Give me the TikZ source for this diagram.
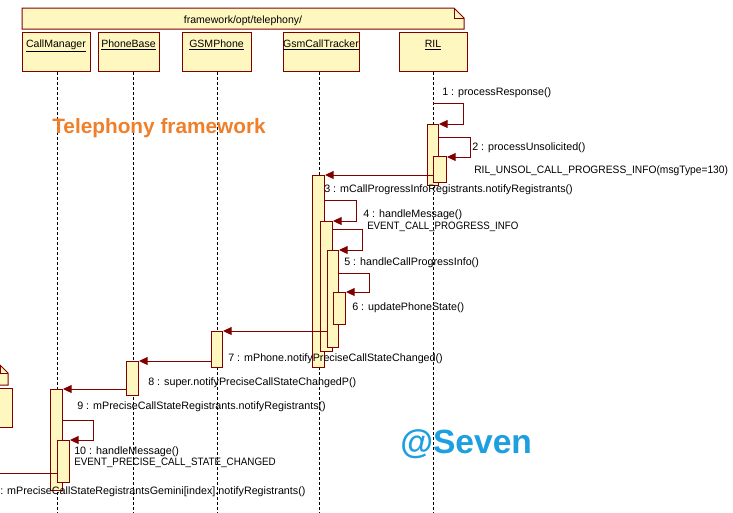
\documentclass[tikz,border=0pt]{standalone}
\usepackage{fontspec}
\setmainfont{Liberation Sans}
\usepackage{graphicx}
\usetikzlibrary{arrows.meta}
\definecolor{boxfill}{HTML}{FFF7C0}
\definecolor{boxline}{HTML}{800000}
\definecolor{orangetxt}{HTML}{F07F2A}
\definecolor{bluetxt}{HTML}{1E9FE0}
\begin{document}
\begin{tikzpicture}[x=0.75pt,y=-0.75pt,
  small/.style={font=\fontsize{8.05}{9}\selectfont, inner sep=0pt},
  lbl/.style={small, anchor=west},
  hdr/.style={draw=boxline, fill=boxfill, line width=0.75pt, inner sep=0pt, anchor=north west,
              minimum width=#1*0.75pt, minimum height=39*0.75pt},
  hdrtxt/.style={font=\fontsize{7.9}{9}\selectfont, inner sep=0pt, anchor=base},
  act/.style 2 args={draw=boxline, fill=boxfill, line width=0.75pt, inner sep=0pt, anchor=north west,
              minimum width=#1*0.75pt, minimum height=#2*0.75pt},
  life/.style={black, line width=0.75pt, dash pattern=on 2.25pt off 1.5pt},
  msg/.style={draw=boxline, line width=0.75pt, -{Triangle[length=6.5pt,width=6pt]}},
  msgline/.style={draw=boxline, line width=0.75pt},
  shapeline/.style={draw=boxline, fill=boxfill, line width=0.75pt}
]
\useasboundingbox (0,0) rectangle (733,512);
\clip (0,0) rectangle (733,512);
\fill[white] (0,0) rectangle (733,512);

% package box
\filldraw[shapeline] (22,8) -- (454,8) -- (464,18) -- (464,29) -- (22,29) -- cycle;
\draw[boxline, line width=0.75pt] (454,8) -- (454,18) -- (464,18);
\node[hdrtxt] (pkg) at (243,23) {framework/opt/telephony/};

% partial objects at the left edge
\filldraw[shapeline] (-3,365) -- (0,365) -- (8,373) -- (8,385) -- (-3,385) -- cycle;
\draw[boxline, line width=0.75pt] (0,365) -- (0,373) -- (8,373);
\node[hdr=15] (lft) at (-3,388) {};

% lifeline headers
\node[hdr=68] (cm) at (22,32) {};
\node[hdr=61] (pb) at (98,32) {};
\node[hdr=69] (gp) at (182,32) {};
\node[hdr=76] (gt) at (283,32) {};
\node[hdr=68] (ril) at (399,32) {};
\node[hdrtxt] (cmt) at (56,47) {\underline{CallManager}};
\node[hdrtxt] (pbt) at (128.5,47) {\underline{PhoneBase}};
\node[hdrtxt] (gpt) at (216.5,47) {\underline{GSMPhone}};
\node[hdrtxt] (gtt) at (321,47) {\underline{GsmCallTracker}};
\node[hdrtxt] (rilt) at (433,47) {\underline{RIL}};

% lifelines
\coordinate (cmb) at (57,515);
\coordinate (pbb) at (133,515);
\coordinate (gpb) at (217,515);
\coordinate (gtb) at (319,515);
\coordinate (rilb) at (433,515);
\draw[life] (cm.south -| cmb) -- (cmb);
\draw[life] (pb.south -| pbb) -- (pbb);
\draw[life] (gp.south -| gpb) -- (gpb);
\draw[life] (gt.south -| gtb) -- (gtb);
\draw[life] (ril.south -| rilb) -- (rilb);

% activations
\node[act={11}{61}] (r1) at (427,124) {};
\node[act={13}{26}] (r2) at (433,156) {};
\node[act={12}{192}] (g1) at (312,175) {};
\node[act={12}{130}] (g2) at (320,221) {};
\node[act={11}{97}] (g3) at (327,250) {};
\node[act={12}{32}] (g4) at (333,292) {};
\node[act={11}{36}] (p1) at (211,331) {};
\node[act={12}{34}] (b1) at (126,361) {};
\node[act={12}{101}] (c1) at (50,389) {};
\node[act={12}{42}] (c2) at (57,440) {};

% messages
\coordinate (s1) at (433,103);
\draw[msg] (s1) -- (463,103) -- (463,124) -- (r1.north east);
\draw[msg] (r1.east |- 0,137) -- (470,137) -- (470,157) -- (r2.east |- 0,157);
\draw[msg] (r2.west |- 0,175) -- (g1.north east);
\draw[msg] (g1.east |- 0,200) -- (356,200) -- (356,221) -- (g2.north east);
\draw[msg] (g2.east |- 0,229) -- (362,229) -- (362,250) -- (g3.north east);
\draw[msg] (g3.east |- 0,273) -- (369,273) -- (369,292) -- (g4.north east);
\draw[msg] (g2.center |- 0,331) -- (p1.north east);
\draw[msg] (p1.west |- 0,361) -- (b1.north east);
\draw[msg] (b1.west |- 0,389) -- (c1.north east);
\draw[msg] (c1.east |- 0,420) -- (93,420) -- (93,440) -- (c2.north east);
\coordinate (e11) at (-5,473);
\draw[msgline] (c2.west |- 0,473) -- (e11);

% labels
\node[lbl] (l1) at (442,93) {1 : processResponse()};
\node[lbl] (l2) at (472,148) {2 : processUnsolicited()};
\node[lbl] (l2b) at (474,171) {\scalebox{0.955}[1]{RIL\_UNSOL\_CALL\_PROGRESS\_INFO(msgType=130)}};
\node[lbl] (l3) at (324,190) {3 : mCallProgressInfoRegistrants.notifyRegistrants()};
\node[lbl] (l4) at (363,215) {4 : handleMessage()};
\node[lbl] (l4b) at (367,227) {\scalebox{0.905}[1]{EVENT\_CALL\_PROGRESS\_INFO}};
\node[lbl] (l5) at (344,263) {5 : handleCallProgressInfo()};
\node[lbl] (l6) at (352,308) {6 : updatePhoneState()};
\node[lbl] (l7) at (228,359) {7 : mPhone.notifyPreciseCallStateChanged()};
\node[lbl] (l8) at (148,383) {8 : super.notifyPreciseCallStateChangedP()};
\node[lbl] (l9) at (77,407) {9 : mPreciseCallStateRegistrants.notifyRegistrants()};
\node[lbl] (l10) at (74,452) {10 : handleMessage()};
\node[lbl] (l10b) at (74,463) {\scalebox{0.915}[1]{EVENT\_PRECISE\_CALL\_STATE\_CHANGED}};
\node[lbl] (l11) at (0,492) {: mPreciseCallStateRegistrantsGemini[index].notifyRegistrants()};

% watermarks
\node[anchor=base west, inner sep=0pt, text=orangetxt, font=\bfseries\fontsize{15.6}{18}\selectfont] (tf) at (52,133) {Telephony framework};
\node[anchor=base west, inner sep=0pt, text=bluetxt, font=\bfseries\fontsize{25.2}{29}\selectfont] (sv) at (400,453) {@Seven};
\end{tikzpicture}
\end{document}
